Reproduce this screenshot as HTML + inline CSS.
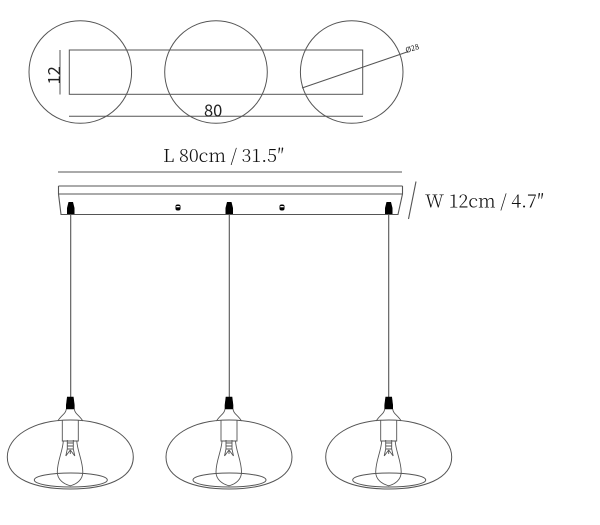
<!DOCTYPE html>
<html><head><meta charset="utf-8"><style>
html,body{margin:0;padding:0;background:#fff;width:600px;height:525px;overflow:hidden}
svg{display:block}
.s{font-family:"Noto Sans CJK SC","Liberation Sans",sans-serif;fill:#222}
.t{font-family:"Noto Serif CJK SC","Liberation Serif",serif;font-weight:300;fill:#111;font-size:18.2px}
</style></head><body>
<svg width="600" height="525" viewBox="0 0 600 525" xmlns="http://www.w3.org/2000/svg">
<defs>
<g id="lamp" fill="none" stroke="#555" stroke-width="0.9">
<path d="M-3 -58H3L4 -50V-46H-4V-50Z" fill="#000" stroke="#000" stroke-width="0.6"/>
<path d="M-4 -46C-4.500 -41 -9 -40 -12.500 -34M4 -46C4.500 -41 9 -40 12.500 -34"/>
<path d="M0 -35C-38 -35 -63 -18 -63 2C-63 24 -35 34 0 34C35 34 63 24 63 2C63 -18 38 -35 0 -35Z" stroke-width="1"/>
<path d="M-8 -35V-14H8V-35"/>
<path d="M-7 -14C-7.500 -4 -13 6 -13 17C-13 25 -6 29 -1 30.500Q0 31 1 30.500C6 29 12.500 25 12.500 17C12.500 6 7 -4 6.500 -14"/>
<ellipse cx="0.500" cy="25" rx="36.500" ry="7" stroke-width="1"/>
<path d="M-3 -15V-6L-4.500 1M3 -15V-6L4.500 1M-3 -12H3M-3 -9H3M-3 -6H3M0 -5L-4.500 1M0 -5L4.500 1M0 -5V-1" stroke-width="0.9"/>
</g>
</defs>
<g fill="none" stroke="#555" stroke-width="1">
<circle cx="80.300" cy="72" r="51.300"/>
<circle cx="216" cy="72" r="51.300"/>
<circle cx="351.700" cy="72" r="51.300"/>
<rect x="69.300" y="50" width="293.400" height="44.300"/>
<path d="M69 116.300H363M60 50V94.500M302 88L407 52"/>
<path d="M58 172H402" stroke-width="1.100"/>
<path d="M58.500 186H402.500M58.500 194H402M58.500 186V194L61 214.500H398L402.500 194V186" stroke-width="1.100"/>
<path d="M416 181.500L408.500 219" stroke-width="1.100"/>
<path d="M70.700 214V398M229.300 214V398M388.700 214V398" stroke-width="1.100"/>
</g>
<g fill="#000">
<path d="M68.500 202H73L74.500 208V214H67V208Z"/>
<path d="M227 202H231.500L233 208V214H225.500V208Z"/>
<path d="M386.500 202H391L392.500 208V214H385V208Z"/>
<rect x="175.500" y="204.500" width="5" height="6" rx="2"/>
<rect x="279.500" y="204.500" width="5" height="6" rx="2"/>
</g>
<rect x="176.300" y="206" width="3.400" height="1.300" fill="#fff"/>
<rect x="280.300" y="206" width="3.400" height="1.300" fill="#fff"/>
<use href="#lamp" transform="translate(70.300 455)"/>
<use href="#lamp" transform="translate(229 455)"/>
<use href="#lamp" transform="translate(388.700 455)"/>
<text class="s" font-size="16.500" transform="translate(60 84.500) rotate(-90)">12</text>
<text class="s" font-size="16.500" x="204" y="116.500">80</text>
<text class="s" font-size="7.500" transform="translate(406.500 53) rotate(-18)">Ø28</text>
<text class="t" x="163" y="162">L 80cm / 31.5″</text>
<text class="t" x="425" y="207.500">W 12cm / 4.7″</text>
</svg>
</body></html>
